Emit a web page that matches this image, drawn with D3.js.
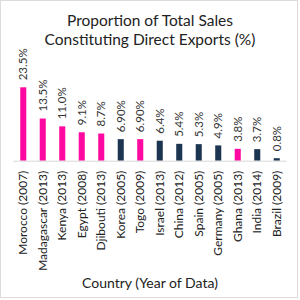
<!DOCTYPE html>
<html>
<head>
<meta charset="utf-8">
<script src="https://cdn.jsdelivr.net/npm/d3@7"></script>
<style>
body{margin:0;background:#fff;}
text{font-family:Lato,"Open Sans",sans-serif;}
</style>
</head>
<body>
<div id="chart"></div>
<script>
var countries = ["Morocco (2007)","Madagascar (2013)","Kenya (2013)","Egypt (2008)","Djibouti (2013)","Korea (2005)","Togo (2009)","Israel (2013)","China (2012)","Spain (2005)","Germany (2005)","Ghana (2013)","India (2014)","Brazil (2009)"];
var values = [23.5,13.5,11.0,9.1,8.7,6.9,6.9,6.4,5.4,5.3,4.9,3.8,3.7,0.8];
var valueLabels = ["23.5%","13.5%","11.0%","9.1%","8.7%","6.90%","6.90%","6.4%","5.4%","5.3%","4.9%","3.8%","3.7%","0.8%"];
var african = [true,true,true,true,true,false,true,false,false,false,false,true,false,false];

var W = 300, H = 300;
var svg = d3.select("#chart").append("svg").attr("width",W).attr("height",H);

svg.append("rect").attr("x",0.5).attr("y",0.5).attr("width",297).attr("height",297)
  .attr("fill","#fff").attr("stroke","#dcdcdc");

// titulo
svg.append("text").attr("x",150).attr("y",26).attr("text-anchor","middle")
  .attr("font-size",15.5).attr("fill","#222").text("Proportion of Total Sales");
svg.append("text").attr("x",150).attr("y",45).attr("text-anchor","middle")
  .attr("font-size",15.5).attr("fill","#222").text("Constituting Direct Exports (%)");

var x = d3.scaleBand().domain(countries).range([13.5,286.5]).paddingInner(0.69).paddingOuter(0.345);
var y = d3.scaleLinear().domain([0,23.5]).range([160.7,87.3]);

var g = svg.append("g");
g.selectAll("rect.bar").data(values).enter().append("rect").attr("class","bar")
  .attr("x",function(d,i){return x(countries[i]);})
  .attr("y",function(d){return y(d);})
  .attr("width",x.bandwidth())
  .attr("height",function(d){return y(0)-y(d);})
  .attr("fill",function(d,i){return african[i] ? "#ff0aa0" : "#1c3550";});

// eje x
var xAxis = svg.append("g").attr("transform","translate(0,"+y(0)+")")
  .call(d3.axisBottom(x).tickSize(0).tickPadding(0));
xAxis.select(".domain").attr("stroke","#d8d8d8").attr("d","M13.5,0.5H286.5");
xAxis.selectAll(".tick text")
  .attr("transform","rotate(-90)")
  .attr("text-anchor","end")
  .attr("x",-10).attr("y",0).attr("dy","0.35em")
  .attr("font-size",12).attr("font-family","Lato,sans-serif").attr("fill","#222");

// etiquetas de valor
g.selectAll("text.val").data(values).enter().append("text").attr("class","val")
  .attr("transform",function(d,i){
    return "translate("+(x(countries[i])+x.bandwidth()/2)+","+(y(d)-7)+") rotate(-90)";})
  .attr("dy","0.35em").attr("font-size",11.5).attr("fill","#333")
  .text(function(d,i){return valueLabels[i];});

svg.append("text").attr("x",150).attr("y",288).attr("text-anchor","middle")
  .attr("font-size",14).attr("fill","#222").text("Country (Year of Data)");
</script>
</body>
</html>
